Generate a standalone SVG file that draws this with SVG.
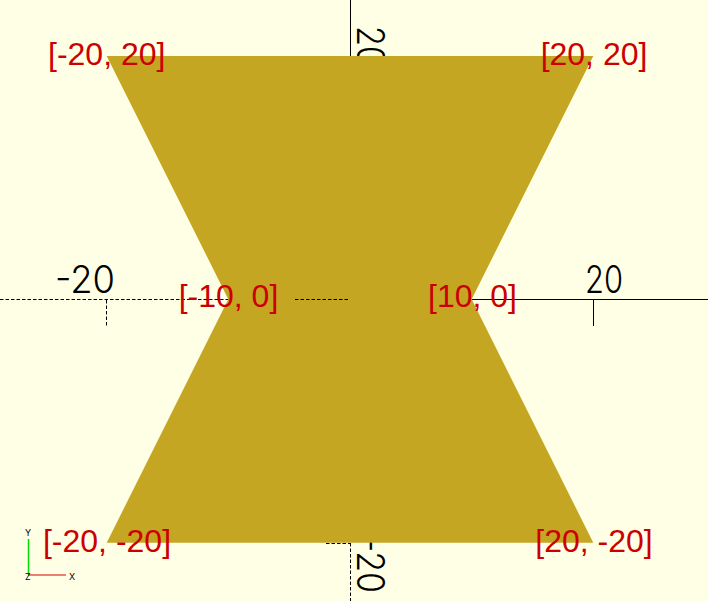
<svg xmlns="http://www.w3.org/2000/svg" width="708" height="601" viewBox="0 0 708 601">
<style>
.ax{stroke:#000;stroke-width:1;fill:none}
.dash{stroke-dasharray:3.5 2}
.axl{font-family:Inter,"DejaVu Sans Mono",monospace;font-weight:300;font-size:38px;fill:#000}
.lbl{font-family:"Liberation Sans",Arial,sans-serif;font-size:32px;fill:#cc0000;text-anchor:middle}
.sm{font-family:Inter,"DejaVu Sans",sans-serif;font-weight:400;font-size:9px;fill:#000}
</style>
<rect width="708" height="601" fill="#ffffe5"/>
<g id="axes">
  <line class="ax" x1="350" y1="299.5" x2="708" y2="299.5"/>
  <line class="ax dash" x1="0" y1="299.5" x2="350" y2="299.5"/>
  <line class="ax" x1="350.5" y1="0" x2="350.5" y2="60"/>
  <line class="ax dash" x1="350.5" y1="543" x2="350.5" y2="601"/>
  <line class="ax dash" x1="106.5" y1="300" x2="106.5" y2="326"/>
  <line class="ax" x1="593.5" y1="300" x2="593.5" y2="326"/>
  <line class="ax dash" x1="326" y1="543.5" x2="350" y2="543.5"/>
  <text class="axl" x="55" y="293" textLength="60" lengthAdjust="spacingAndGlyphs">-20</text>
  <text class="axl" x="585" y="293" textLength="38" lengthAdjust="spacingAndGlyphs">20</text>
  <text class="axl" transform="translate(357,26) rotate(90)" textLength="40" lengthAdjust="spacingAndGlyphs">20</text>
  <text class="axl" transform="translate(357,537) rotate(90)" textLength="56" lengthAdjust="spacingAndGlyphs">-20</text>
</g>
<g id="shape">
  <polygon points="106.7,56 593.3,56 471.7,299.2 593.3,542.8 106.7,542.8 228.3,299.2" fill="#c4a623"/>
</g>
<g id="axis-overlay">
  <line class="ax dash" x1="295" y1="299.5" x2="350" y2="299.5"/>
</g>
<g id="labels">
  <text class="lbl" x="106.7" y="64.5">[-20, 20]</text>
  <text class="lbl" x="594" y="64.5">[20, 20]</text>
  <text class="lbl" x="228.5" y="307">[-10, 0]</text>
  <text class="lbl" x="472.5" y="307">[10, 0]</text>
  <text class="lbl" x="107" y="552">[-20, -20]</text>
  <text class="lbl" x="594" y="552">[20, -20]</text>
</g>
<g id="orientation">
  <line x1="28.5" y1="539" x2="28.5" y2="575" stroke="#00dd00" stroke-width="1.5"/>
  <line x1="28" y1="575" x2="66" y2="575" stroke="#dd0000" stroke-width="1"/>
  <text class="sm" x="25" y="536">Y</text>
  <text class="sm" x="25" y="580">Z</text>
  <text class="sm" x="69" y="580">X</text>
</g>
</svg>
